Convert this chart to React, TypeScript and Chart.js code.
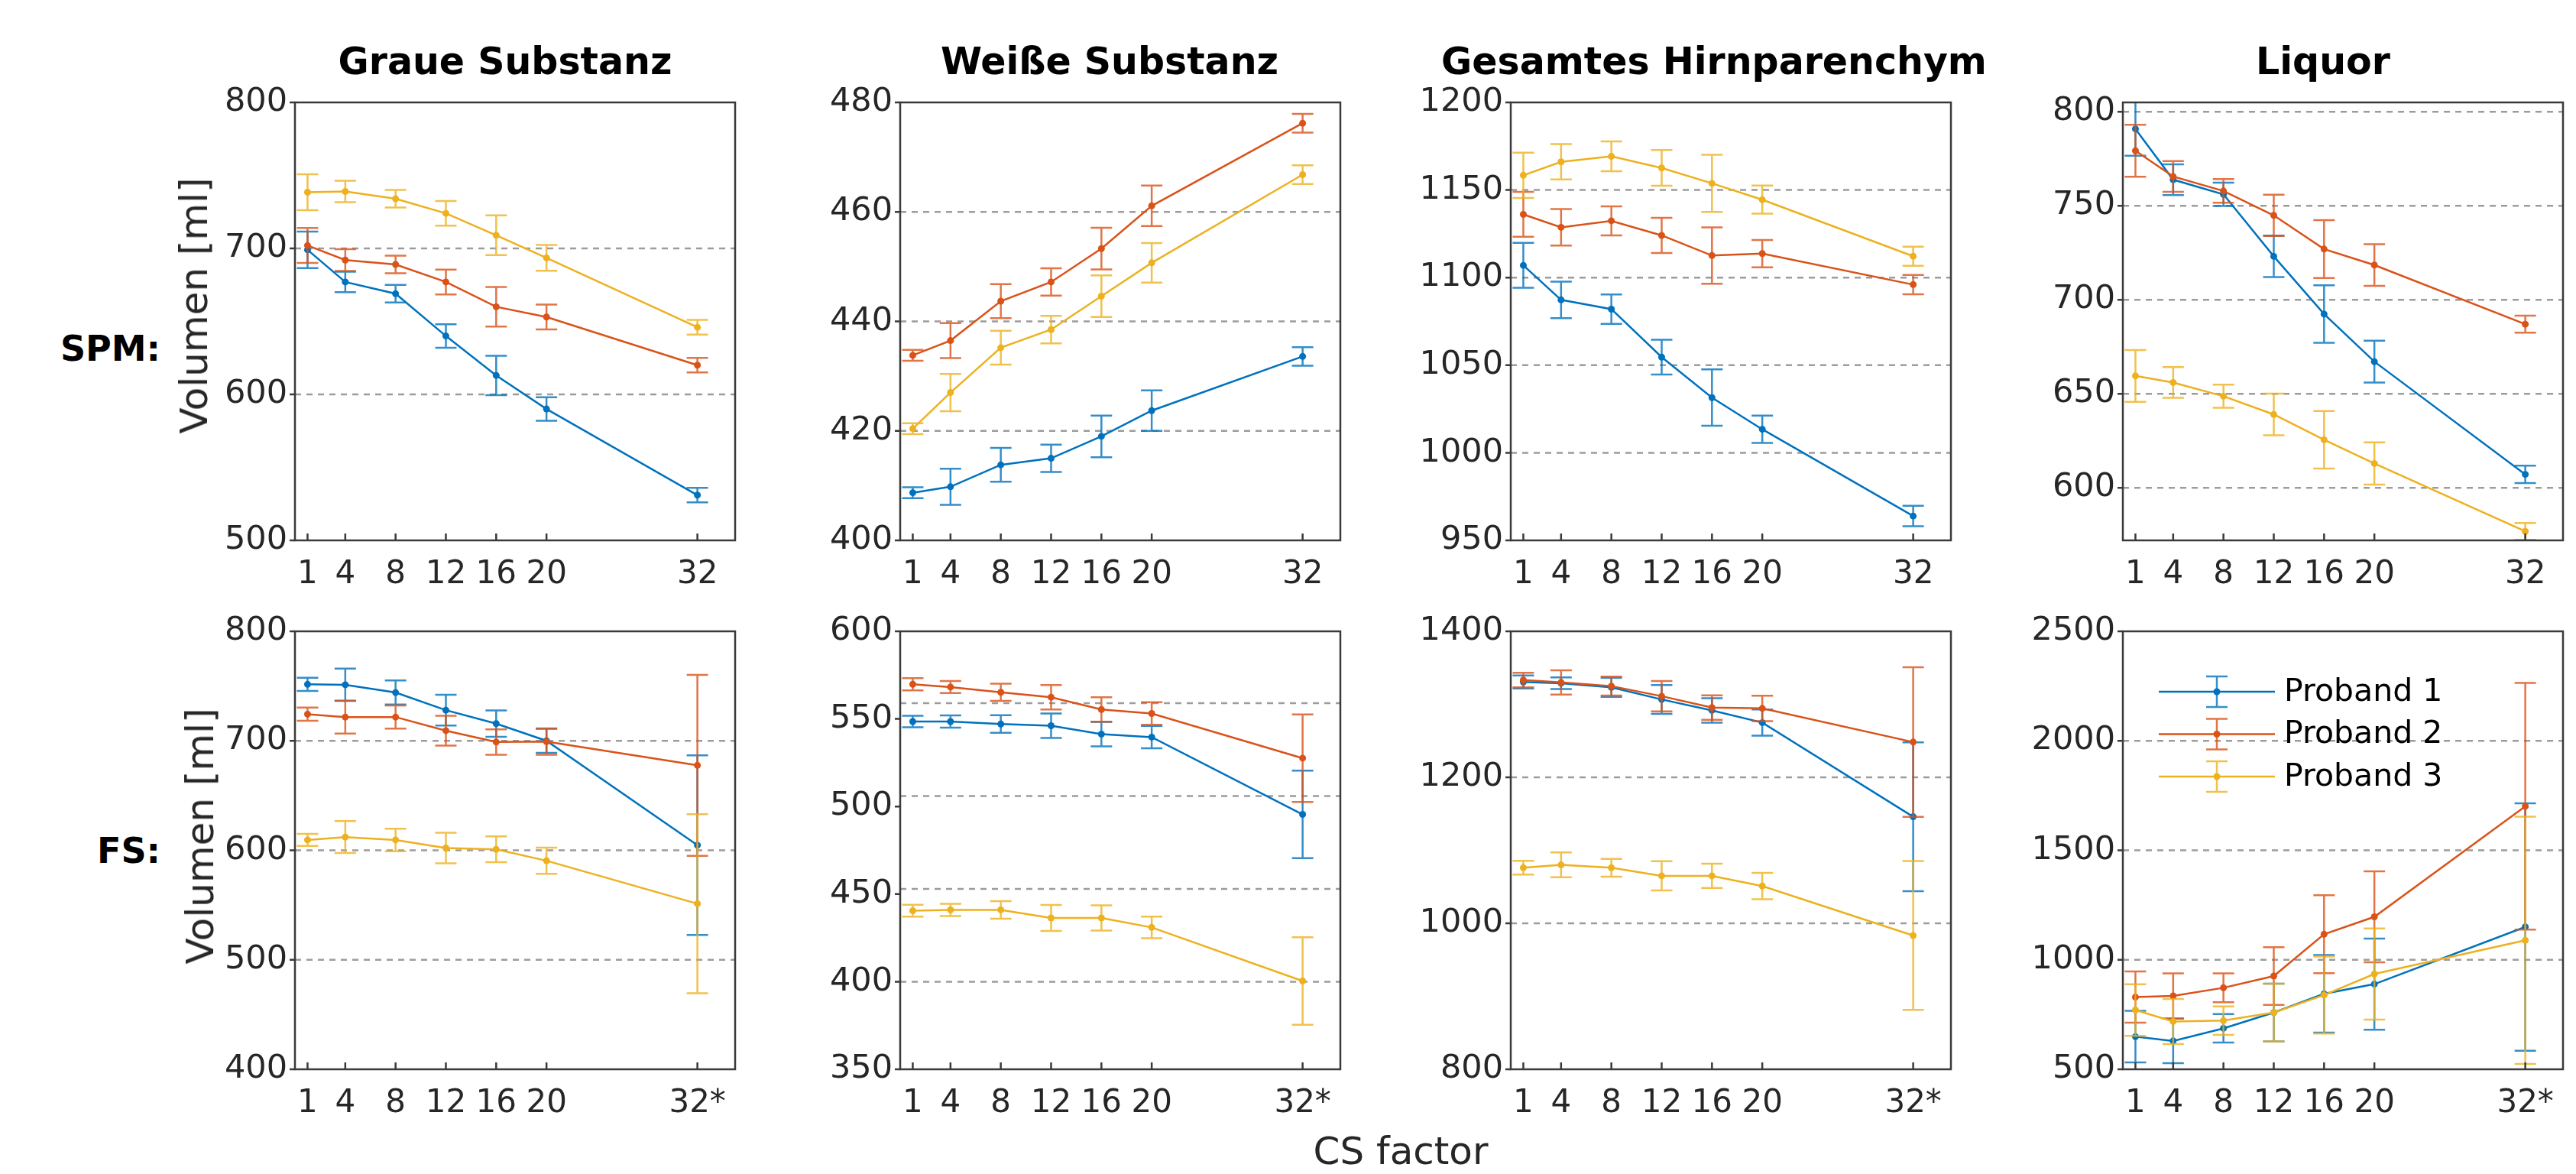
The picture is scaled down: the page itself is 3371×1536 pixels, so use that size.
import React, { useEffect, useRef } from 'react';
import { Chart, registerables } from 'chart.js';

Chart.register(...registerables);

// ---------------- data ----------------
const CS_FACTORS = [1, 4, 8, 12, 16, 20, 32];
const X_LABELS_SPM = ['1', '4', '8', '12', '16', '20', '32'];
const X_LABELS_FS = ['1', '4', '8', '12', '16', '20', '32*'];
const PROBANDS = ['Proband 1', 'Proband 2', 'Proband 3'];
const COLUMN_TITLES = ['Graue Substanz', 'Weiße Substanz', 'Gesamtes Hirnparenchym', 'Liquor'];
const ROW_LABELS = ['SPM:', 'FS:'];
const Y_TITLE = 'Volumen [ml]';
const X_TITLE = 'CS factor';

// Graue Substanz – SPM
const GM_SPM_MEANS = [
  [699, 677, 669, 640, 613, 590, 531],
  [702, 692, 689, 677, 660, 653, 620],
  [738.5, 739, 734, 724, 709, 693.5, 646],
];
const GM_SPM_ERRS = [
  [12.5, 7, 6, 8, 13.5, 8, 5],
  [12, 7.5, 6, 8.5, 13.5, 8.5, 5],
  [12.3, 7.3, 6, 8.4, 13.6, 8.8, 5],
];
const GM_SPM_YTICKS = [500, 600, 700, 800];
const GM_SPM_GRID = [600, 700];

// Weiße Substanz – SPM
const WM_SPM_MEANS = [
  [408.7, 409.8, 413.8, 415, 419, 423.7, 433.6],
  [433.8, 436.5, 443.7, 447.2, 453.3, 461.1, 476.2],
  [420.4, 427, 435.2, 438.5, 444.6, 450.7, 466.8],
];
const WM_SPM_ERRS = [
  [1, 3.3, 3.1, 2.5, 3.8, 3.7, 1.7],
  [1, 3.2, 3.1, 2.5, 3.8, 3.7, 1.7],
  [1, 3.4, 3.1, 2.5, 3.8, 3.6, 1.7],
];
const WM_SPM_YTICKS = [400, 420, 440, 460, 480];
const WM_SPM_GRID = [420, 440, 460];

// Gesamtes Hirnparenchym – SPM
const BP_SPM_MEANS = [
  [1107, 1087.3, 1082, 1054.6, 1031.5, 1013.4, 963.9],
  [1136.1, 1128.7, 1132.4, 1124.1, 1112.6, 1113.7, 1096],
  [1158.4, 1166.1, 1169.2, 1162.6, 1153.8, 1144.5, 1112.2],
];
const BP_SPM_ERRS = [
  [12.8, 10.4, 8.4, 9.9, 16.1, 7.8, 5.8],
  [12.8, 10.4, 8.3, 10, 16.1, 7.8, 5.5],
  [12.9, 10.1, 8.5, 10.2, 16.3, 8, 5.5],
];
const BP_SPM_YTICKS = [950, 1000, 1050, 1100, 1150, 1200];
const BP_SPM_GRID = [1000, 1050, 1100, 1150];

// Liquor – SPM
const CSF_SPM_MEANS = [
  [790.9, 763.9, 756.1, 723.1, 692.4, 667.1, 607.1],
  [779.3, 765.6, 757.9, 744.9, 727, 718.5, 687],
  [659.5, 656, 648.7, 639, 625.5, 612.9, 576.8],
];
const CSF_SPM_ERRS = [
  [14.3, 8.2, 6.2, 11, 15.3, 11.1, 4.6],
  [13.8, 8.2, 6.3, 11, 15.4, 11.1, 4.5],
  [13.8, 8.2, 6.2, 11.1, 15.3, 11.2, 4.5],
];
const CSF_SPM_YTICKS = [600, 650, 700, 750, 800];
const CSF_SPM_GRID = [600, 650, 700, 750, 800];

// Graue Substanz – FS
const GM_FS_MEANS = [
  [751.6, 751.2, 744.1, 728, 715.7, 700, 604.7],
  [724.3, 721.7, 721.7, 709.3, 698.9, 699.3, 677.6],
  [609.5, 612.1, 609.5, 602.1, 600.9, 590.5, 551.2],
];
const GM_FS_ERRS = [
  [6, 14.8, 11, 14, 12, 11, 82],
  [6, 15, 10.6, 13.6, 11.6, 12, 82.6],
  [5.5, 14.6, 10.3, 14, 11.8, 12, 81.8],
];
const GM_FS_YTICKS = [400, 500, 600, 700, 800];
const GM_FS_GRID = [500, 600, 700];

// Weiße Substanz – FS
const WM_FS_MEANS = [
  [548.5, 548.5, 547.1, 546.1, 541.3, 539.6, 495.5],
  [569.8, 568.2, 565.2, 562.4, 555.4, 553.1, 527.6],
  [440.5, 441, 441, 436.4, 436.4, 431, 400.4],
];
const WM_FS_ERRS = [
  [3.3, 3.5, 5, 7, 7, 6.4, 25],
  [3.5, 3.4, 4.9, 7, 7, 6.4, 25],
  [3.4, 3.5, 5, 7.4, 7.2, 6.2, 25],
];
const WM_FS_YTICKS = [350, 400, 450, 500, 550, 600];
const WM_FS_GRID = [400, 453, 506, 559];

// Gesamtes Hirnparenchym – FS
const BP_FS_MEANS = [
  [1330.6, 1328.9, 1323.3, 1306.7, 1291.7, 1275, 1146],
  [1333.3, 1330, 1325, 1311.1, 1295.6, 1294.4, 1248.3],
  [1076.1, 1080, 1076.1, 1065, 1065, 1051.1, 983.3],
];
const BP_FS_ERRS = [
  [9, 8, 13, 19.7, 16.7, 18, 102],
  [10, 16.7, 13, 20.8, 16.7, 17.5, 102.5],
  [9.4, 17, 12.2, 20, 16.7, 18, 102],
];
const BP_FS_YTICKS = [800, 1000, 1200, 1400];
const BP_FS_GRID = [1000, 1200];

// Liquor – FS
const CSF_FS_MEANS = [
  [649, 629.6, 687, 759.3, 844.4, 888.9, 1150],
  [829.6, 835.2, 872.2, 925.9, 1116.7, 1196.3, 1701],
  [770.4, 718.5, 722.2, 759.3, 838.9, 935.2, 1089],
];
const CSF_FS_ERRS = [
  [118, 102, 65, 132, 177, 208, 565],
  [117, 103, 66, 132, 178, 208, 563],
  [118, 103, 65, 132, 176, 208, 565],
];
const CSF_FS_YTICKS = [500, 1000, 1500, 2000, 2500];
const CSF_FS_GRID = [1000, 1500, 2000];

// ---------------- styling / layout ----------------
const COLORS = ['#0072BD', '#D95319', '#EDB120'];
const FONT = 'DejaVu Sans';
const TICK_COLOR = '#262626';
const COL_LEFT = [386, 1178, 1977, 2778];
const ROW_TOP = [134, 826];
const BOX_W = 576;
const BOX_H = 573;
const PAD_L = 140;
const PAD_T = 40;
const PAD_R = 40;
const PAD_B = 80;

type Panel = {
  id: string;
  row: number;
  col: number;
  means: number[][];
  errs: number[][];
  yMin: number;
  yMax: number;
  yTicks: number[];
  grid: number[];
  xLabels: string[];
  legend?: boolean;
};

const PANELS: Panel[] = [
  { id: 'gm-spm', row: 0, col: 0, means: GM_SPM_MEANS, errs: GM_SPM_ERRS, yMin: 500, yMax: 800, yTicks: GM_SPM_YTICKS, grid: GM_SPM_GRID, xLabels: X_LABELS_SPM },
  { id: 'wm-spm', row: 0, col: 1, means: WM_SPM_MEANS, errs: WM_SPM_ERRS, yMin: 400, yMax: 480, yTicks: WM_SPM_YTICKS, grid: WM_SPM_GRID, xLabels: X_LABELS_SPM },
  { id: 'bp-spm', row: 0, col: 2, means: BP_SPM_MEANS, errs: BP_SPM_ERRS, yMin: 950, yMax: 1200, yTicks: BP_SPM_YTICKS, grid: BP_SPM_GRID, xLabels: X_LABELS_SPM },
  { id: 'csf-spm', row: 0, col: 3, means: CSF_SPM_MEANS, errs: CSF_SPM_ERRS, yMin: 572, yMax: 805, yTicks: CSF_SPM_YTICKS, grid: CSF_SPM_GRID, xLabels: X_LABELS_SPM },
  { id: 'gm-fs', row: 1, col: 0, means: GM_FS_MEANS, errs: GM_FS_ERRS, yMin: 400, yMax: 800, yTicks: GM_FS_YTICKS, grid: GM_FS_GRID, xLabels: X_LABELS_FS },
  { id: 'wm-fs', row: 1, col: 1, means: WM_FS_MEANS, errs: WM_FS_ERRS, yMin: 350, yMax: 600, yTicks: WM_FS_YTICKS, grid: WM_FS_GRID, xLabels: X_LABELS_FS },
  { id: 'bp-fs', row: 1, col: 2, means: BP_FS_MEANS, errs: BP_FS_ERRS, yMin: 800, yMax: 1400, yTicks: BP_FS_YTICKS, grid: BP_FS_GRID, xLabels: X_LABELS_FS },
  { id: 'csf-fs', row: 1, col: 3, means: CSF_FS_MEANS, errs: CSF_FS_ERRS, yMin: 500, yMax: 2500, yTicks: CSF_FS_YTICKS, grid: CSF_FS_GRID, xLabels: X_LABELS_FS, legend: true },
];

const CAP = 14;
const LINE_W = 2.5;

function PanelChart({ panel }: { panel: Panel }) {
  const ref = useRef<HTMLCanvasElement | null>(null);
  const W = BOX_W + PAD_L + PAD_R;
  const H = BOX_H + PAD_T + PAD_B;
  const left = COL_LEFT[panel.col] - PAD_L;
  const top = ROW_TOP[panel.row] - PAD_T;

  useEffect(() => {
    if (!ref.current) return;

    const framePlugin = {
      id: 'frame',
      beforeDatasetsDraw(chart: any) {
        const { ctx, chartArea: a, scales } = chart;
        ctx.save();
        ctx.strokeStyle = '#9c9c9c';
        ctx.lineWidth = 2.5;
        ctx.setLineDash([8, 7]);
        for (const v of panel.grid) {
          const y = scales.y.getPixelForValue(v);
          ctx.beginPath();
          ctx.moveTo(a.left, y);
          ctx.lineTo(a.right, y);
          ctx.stroke();
        }
        ctx.restore();
      },
      afterDatasetsDraw(chart: any) {
        const { ctx, chartArea: a, scales } = chart;
        ctx.save();
        ctx.setLineDash([]);
        ctx.strokeStyle = '#3a3a3a';
        ctx.lineWidth = 2.5;
        ctx.strokeRect(a.left, a.top, a.right - a.left, a.bottom - a.top);
        ctx.beginPath();
        for (const v of CS_FACTORS) {
          const x = scales.x.getPixelForValue(v);
          ctx.moveTo(x, a.bottom);
          ctx.lineTo(x, a.bottom - 9);
        }
        for (const v of panel.yTicks) {
          const y = scales.y.getPixelForValue(v);
          if (y < a.top - 1 || y > a.bottom + 1) continue;
          ctx.moveTo(a.left, y);
          ctx.lineTo(a.left - 7, y);
        }
        ctx.stroke();
        ctx.restore();
      },
    };

    const errorBarPlugin = {
      id: 'errorBars',
      afterDatasetDraw(chart: any, args: any) {
        const { ctx, chartArea: a, scales } = chart;
        const i = args.index;
        const meta = args.meta;
        ctx.save();
        ctx.beginPath();
        ctx.rect(a.left, a.top, a.right - a.left, a.bottom - a.top);
        ctx.clip();
        ctx.strokeStyle = COLORS[i];
        ctx.globalAlpha = 0.8;
        ctx.lineWidth = LINE_W;
        ctx.setLineDash([]);
        ctx.beginPath();
        meta.data.forEach((pt: any, j: number) => {
          const v = panel.means[i][j];
          const e = panel.errs[i][j];
          const yT = scales.y.getPixelForValue(v + e);
          const yB = scales.y.getPixelForValue(v - e);
          const x = pt.x;
          ctx.moveTo(x, yT);
          ctx.lineTo(x, yB);
          ctx.moveTo(x - CAP, yT);
          ctx.lineTo(x + CAP, yT);
          ctx.moveTo(x - CAP, yB);
          ctx.lineTo(x + CAP, yB);
        });
        ctx.stroke();
        ctx.restore();
      },
    };

    const legendPlugin = {
      id: 'insetLegend',
      afterDraw(chart: any) {
        if (!panel.legend) return;
        const { ctx, chartArea: a } = chart;
        ctx.save();
        chart.data.datasets.forEach((ds: any, i: number) => {
          const y = a.top + 79 + i * 55.5;
          const x0 = a.left + 47;
          const x1 = a.left + 199;
          const xc = (x0 + x1) / 2;
          ctx.strokeStyle = COLORS[i];
          ctx.lineWidth = LINE_W;
          ctx.globalAlpha = 1;
          ctx.beginPath();
          ctx.moveTo(x0, y);
          ctx.lineTo(x1, y);
          ctx.stroke();
          ctx.globalAlpha = 0.8;
          ctx.beginPath();
          ctx.moveTo(xc, y - 20);
          ctx.lineTo(xc, y + 20);
          ctx.moveTo(xc - CAP, y - 20);
          ctx.lineTo(xc + CAP, y - 20);
          ctx.moveTo(xc - CAP, y + 20);
          ctx.lineTo(xc + CAP, y + 20);
          ctx.stroke();
          ctx.globalAlpha = 1;
          ctx.fillStyle = COLORS[i];
          ctx.beginPath();
          ctx.arc(xc, y, 4.5, 0, Math.PI * 2);
          ctx.fill();
          ctx.fillStyle = '#000';
          ctx.font = `41px "${FONT}"`;
          ctx.textAlign = 'left';
          ctx.textBaseline = 'middle';
          ctx.fillText(ds.label, a.left + 211, y + 1);
        });
        ctx.restore();
      },
    };

    const chart = new Chart(ref.current, {
      type: 'line',
      data: {
        datasets: PROBANDS.map((label, i) => ({
          label,
          data: CS_FACTORS.map((x, j) => ({ x, y: panel.means[i][j] })),
          borderColor: COLORS[i],
          backgroundColor: COLORS[i],
          pointBackgroundColor: COLORS[i],
          pointBorderColor: COLORS[i],
          pointBorderWidth: 0,
          pointRadius: 4.5,
          borderWidth: LINE_W,
          tension: 0,
          fill: false,
          order: 3 - i,
        })),
      },
      options: {
        animation: false,
        responsive: false,
        devicePixelRatio: 1,
        events: [],
        layout: { padding: { left: 0, top: PAD_T, right: PAD_R, bottom: 0 } },
        plugins: {
          legend: { display: false },
          tooltip: { enabled: false },
          title: { display: false },
        },
        scales: {
          x: {
            type: 'linear',
            min: 0,
            max: 35,
            grid: { display: false, drawTicks: false, tickLength: 0 },
            border: { display: false },
            afterBuildTicks: (s: any) => {
              s.ticks = CS_FACTORS.map((v) => ({ value: v }));
            },
            afterFit: (s: any) => {
              s.height = PAD_B;
            },
            ticks: {
              autoSkip: false,
              maxRotation: 0,
              minRotation: 0,
              padding: 20,
              color: TICK_COLOR,
              font: { family: FONT, size: 42 },
              callback: (v: any) => {
                const idx = CS_FACTORS.indexOf(Number(v));
                return idx >= 0 ? panel.xLabels[idx] : '';
              },
            },
          },
          y: {
            type: 'linear',
            min: panel.yMin,
            max: panel.yMax,
            grid: { display: false, drawTicks: false, tickLength: 0 },
            border: { display: false },
            afterBuildTicks: (s: any) => {
              s.ticks = panel.yTicks.map((v) => ({ value: v }));
            },
            afterFit: (s: any) => {
              s.width = PAD_L;
            },
            ticks: {
              autoSkip: false,
              padding: 10,
              color: TICK_COLOR,
              font: { family: FONT, size: 43 },
              callback: (v: any) => String(v),
            },
          },
        },
      } as any,
      plugins: [framePlugin, errorBarPlugin, legendPlugin],
    });
    return () => chart.destroy();
  }, [panel]);

  return (
    <canvas
      ref={ref}
      width={W}
      height={H}
      style={{ position: 'absolute', left, top, width: W, height: H }}
    />
  );
}

const TITLE_CENTERS = [661, 1452, 2243, 3040];

export default function App() {
  useEffect(() => {
    document.body.style.margin = '0';
    document.body.style.background = '#fff';
  }, []);

  const textBase: React.CSSProperties = {
    position: 'absolute',
    fontFamily: `"${FONT}"`,
    whiteSpace: 'nowrap',
    lineHeight: 1,
  };

  return (
    <div style={{ position: 'relative', width: 3371, height: 1536, background: '#fff', overflow: 'hidden' }}>
      {PANELS.map((p) => (
        <PanelChart key={p.id} panel={p} />
      ))}
      {COLUMN_TITLES.map((t, i) => (
        <div
          key={t}
          style={{ ...textBase, left: TITLE_CENTERS[i], top: 56, fontSize: 49, fontWeight: 'bold', color: '#000', transform: 'translateX(-50%)' }}
        >
          {t}
        </div>
      ))}
      <div style={{ ...textBase, left: 210, top: 433, fontSize: 46, fontWeight: 'bold', color: '#000', transform: 'translateX(-100%)' }}>
        {ROW_LABELS[0]}
      </div>
      <div style={{ ...textBase, left: 210, top: 1090, fontSize: 46, fontWeight: 'bold', color: '#000', transform: 'translateX(-100%)' }}>
        {ROW_LABELS[1]}
      </div>
      <div style={{ ...textBase, left: 254, top: 400, fontSize: 50, color: TICK_COLOR, transform: 'translate(-50%, -50%) rotate(-90deg)' }}>
        {Y_TITLE}
      </div>
      <div style={{ ...textBase, left: 262, top: 1094, fontSize: 50, color: TICK_COLOR, transform: 'translate(-50%, -50%) rotate(-90deg)' }}>
        {Y_TITLE}
      </div>
      <div style={{ ...textBase, left: 1833, top: 1481, fontSize: 50, color: TICK_COLOR, transform: 'translateX(-50%)' }}>
        {X_TITLE}
      </div>
    </div>
  );
}
